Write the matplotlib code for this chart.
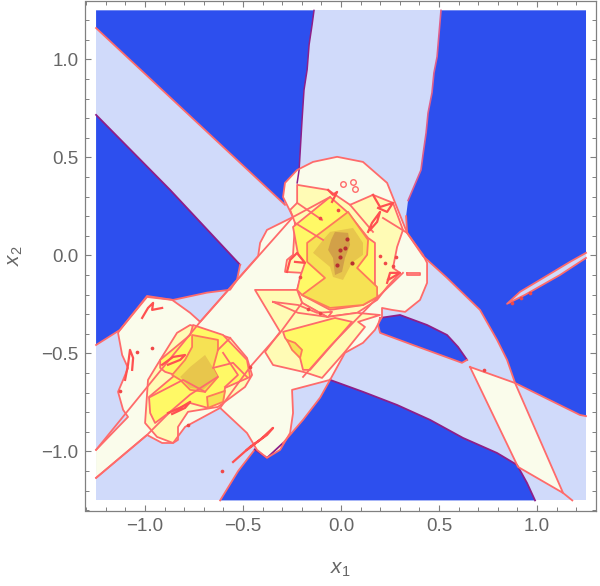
import matplotlib
matplotlib.use("Agg")
import matplotlib.pyplot as plt
from matplotlib.ticker import MultipleLocator

plt.rcParams['font.family'] = ['Liberation Sans', 'DejaVu Sans']
plt.rcParams['mathtext.fontset'] = 'custom'
plt.rcParams['mathtext.rm'] = 'Liberation Sans'
plt.rcParams['mathtext.it'] = 'Liberation Sans:italic'

# region outlines in (x1, x2)
dark_top_left = [(-1.25,1.16),(-0.286,0.258),(-0.296,0.31),(-0.224,0.37),(-0.214,0.436),(-0.199,0.691),(-0.189,0.844),
                 (-0.173,0.948),(-0.163,1.075),(-0.148,1.175),(-0.138,1.25),(-1.25,1.25)]
dark_left = [(-1.25,0.717),(-0.872,0.334),(-0.515,-0.048),(-0.531,-0.125),(-0.566,-0.175),(-0.684,-0.19),
             (-0.857,-0.227),(-0.99,-0.207),(-1.128,-0.38),(-1.25,-0.457)]
dark_right = [(0.51,1.25),(0.49,1.013),(0.474,0.931),(0.464,0.829),(0.444,0.727),(0.434,0.625),(0.418,0.513),(0.408,0.436),
              (0.342,0.28),(0.332,0.2),(0.337,0.115),(0.418,-0.003),(0.541,-0.115),(0.709,-0.278),(0.796,-0.431),(0.847,-0.533),
              (0.888,-0.651),(1.219,-0.814),(1.25,-0.82),(1.25,1.25)]
dark_bottom = [(-0.617,-1.25),(-0.525,-1.1),(-0.44,-0.99),(-0.378,-1.033),(-0.296,-0.957),(-0.194,-0.839),(-0.107,-0.726),
               (-0.056,-0.635),(0.112,-0.696),(0.286,-0.763),(0.454,-0.839),(0.622,-0.931),(0.796,-1.008),(0.898,-1.069),
               (0.949,-1.161),(0.99,-1.25)]
dark_island = [(0.199,-0.319),(0.301,-0.304),(0.439,-0.355),(0.541,-0.406),(0.597,-0.467),(0.643,-0.533),(0.617,-0.548),
               (0.367,-0.457),(0.199,-0.395),(0.189,-0.355)]
sliver = [(1.25,0.013),(1.168,-0.033),(1.015,-0.125),(0.913,-0.186),(0.847,-0.247),(0.939,-0.201),
          (1.117,-0.1),(1.25,-0.013)]

pale_main = [(-1.25,-0.992),(-1.087,-0.824),(-1.112,-0.788),(-1.138,-0.696),(-1.112,-0.635),(-1.087,-0.574),
             (-1.117,-0.508),(-1.138,-0.395),(-1.128,-0.38),(-0.99,-0.212),(-0.862,-0.227),(-0.77,-0.293),
             (-0.719,-0.339),(-0.531,-0.125),(-0.423,-0.003),(-0.413,0.064),(-0.378,0.13),(-0.245,0.196),
             (-0.296,0.298),(-0.286,0.37),(-0.224,0.436),(-0.143,0.477),(-0.02,0.503),(0.112,0.477),(0.235,0.37),
             (0.276,0.268),(0.337,0.115),(0.418,0.003),(0.439,-0.038),(0.439,-0.14),(0.403,-0.227),(0.327,-0.288),
             (0.26,-0.278),(0.209,-0.268),(0.209,-0.314),(0.173,-0.38),(0.112,-0.446),(0.02,-0.497),(-0.056,-0.635),
             (-0.25,-0.686),(-0.245,-0.804),(-0.26,-0.906),(-0.311,-0.992),(-0.378,-1.033),(-0.429,-0.992),
             (-0.48,-0.906),(-0.617,-0.778),(-0.796,-0.875),(-0.857,-0.957),(-0.913,-0.957),(-0.99,-0.916),(-1.25,-1.135)]
pale_triangle = [(0.658,-0.569),(0.888,-0.651),(1.133,-1.212),(0.903,-1.079),(0.658,-0.569)]

upper_light = [(-0.224,0.36),(-0.066,0.334),(0.046,0.258),(0.163,0.309),(0.265,0.268),(0.316,0.13),(0.286,0.043),
               (0.265,-0.064),(0.301,-0.089),(0.235,-0.161),(0.184,-0.227),(0.082,-0.293),(-0.071,-0.314),
               (-0.199,-0.242),(-0.224,-0.176),(-0.199,-0.089),(-0.286,-0.084),(-0.276,-0.023),(-0.245,0.003),
               (-0.235,0.166),(-0.26,0.232),(-0.224,0.268)]
upper_yellow = [(0.031,0.222),(0.138,0.089),(0.173,0.064),(0.173,-0.161),(0.189,-0.212),(0.112,-0.253),(-0.056,-0.278),
                (-0.199,-0.202),(-0.224,-0.176),(-0.209,-0.11),(-0.184,-0.038),(-0.219,0.003),(-0.245,0.145),(-0.056,0.298)]
upper_gold = [(0.036,0.222),(0.138,0.079),(0.133,0.003),(0.082,-0.064),(0.184,-0.161),(0.184,-0.212),(0.112,-0.253),
              (-0.056,-0.268),(-0.199,-0.202),(-0.082,-0.115),(-0.173,-0.033),(-0.173,0.064)]
upper_amber = [(-0.056,0.12),(0.061,0.14),(0.112,0.064),(0.112,0.003),(0.056,-0.038),(0.01,-0.125),(-0.041,-0.11),
               (-0.056,-0.059),(-0.143,0.013),(-0.092,0.079)]
upper_core = [(-0.031,0.12),(0.036,0.115),(0.046,0.054),(0.02,-0.013),(0.005,-0.084),(-0.031,-0.1),(-0.041,-0.013),
              (-0.066,0.028),(-0.051,0.079)]

mid_light = [(-0.439,-0.176),(-0.311,-0.39),(-0.388,-0.492),(-0.347,-0.559),(-0.194,-0.594),(-0.173,-0.6),(-0.097,-0.625),
             (0.02,-0.492),(0.122,-0.365),(0.087,-0.339),(0.199,-0.304),(0.082,-0.293),(-0.071,-0.314),(-0.199,-0.242),(-0.224,-0.176)]
mid_yellow = [(-0.296,-0.39),(-0.031,-0.319),(0.056,-0.339),(-0.158,-0.584),(-0.194,-0.584),(-0.209,-0.523),(-0.286,-0.42)]
mid_gold = [(-0.276,-0.431),(-0.235,-0.446),(-0.199,-0.482),(-0.209,-0.523),(-0.25,-0.482)]

lower_light = [(-0.77,-0.355),(-0.566,-0.421),(-0.48,-0.523),(-0.454,-0.61),(-0.49,-0.671),(-0.628,-0.773),(-0.781,-0.798),
               (-0.832,-0.875),(-0.832,-0.941),(-0.857,-0.957),(-0.939,-0.926),(-1.0,-0.855),(-0.985,-0.635),
               (-0.923,-0.533),(-0.837,-0.395)]
lower_yellow = [(-0.77,-0.406),(-0.755,-0.355),(-0.602,-0.406),(-0.48,-0.533),(-0.464,-0.62),(-0.592,-0.676),(-0.602,-0.737),
                (-0.679,-0.778),(-0.77,-0.753),(-0.872,-0.798),(-0.949,-0.855),(-0.974,-0.804),(-0.98,-0.722),
                (-0.847,-0.61),(-0.898,-0.594),(-0.923,-0.574),(-0.923,-0.533)]
lower_gold = [(-0.76,-0.406),(-0.628,-0.431),(-0.628,-0.482),(-0.653,-0.574),(-0.628,-0.62),(-0.694,-0.696),(-0.77,-0.686),
              (-0.821,-0.635),(-0.862,-0.61),(-0.796,-0.533),(-0.76,-0.467)]
lower_gold2 = [(-0.684,-0.722),(-0.592,-0.691),(-0.602,-0.747),(-0.679,-0.778)]
lower_amber = [(-0.694,-0.508),(-0.653,-0.574),(-0.628,-0.62),(-0.704,-0.686),(-0.77,-0.676),(-0.821,-0.62),(-0.77,-0.569)]

# the loose boundary lines and squiggles
lines_red = [
    [(-1.25,-0.992),(-0.719,-0.339),(-0.245,0.196),(-0.056,0.298)],
    [(-1.25,-1.135),(-0.99,-0.916),(-0.872,-0.798),(-0.77,-0.71),(-0.63,-0.62)],
    [(-0.617,-0.778),(-0.464,-0.569),(-0.311,-0.395),(-0.199,-0.242)],
    [(0.316,-0.089),(0.189,-0.212),(-0.056,-0.464),(-0.194,-0.62)],
    [(0.214,0.191),(0.337,0.115)],
    [(0.046,0.258),(0.163,0.12)],
    [(-0.224,0.268),(-0.097,0.181)],
    [(-0.235,0.166),(-0.092,0.079)],
    [(-0.974,-0.722),(-0.806,-0.635),(-0.694,-0.696)],
    [(-0.653,-0.574),(-0.551,-0.548),(-0.48,-0.62)],
    [(-0.602,-0.497),(-0.526,-0.61),(-0.592,-0.671)],
    [(-0.566,-0.421),(-0.628,-0.482)],
    [(-0.347,-0.237),(-0.219,-0.253),(-0.122,-0.293),(-0.046,-0.288),(-0.066,-0.314),(-0.219,-0.293),(-0.347,-0.237)],
    [(1.133,-1.212),(1.18,-1.25)],
    [(0.337,-0.089),(0.403,-0.089),(0.403,-0.1),(0.337,-0.1),(0.337,-0.089)],
]
squiggles = [
    [(-0.913,-0.558),(-0.857,-0.518),(-0.796,-0.508),(-0.821,-0.533),(-0.883,-0.558)],
    [(-0.883,-0.804),(-0.821,-0.778),(-0.77,-0.747),(-0.796,-0.778),(-0.862,-0.809)],
    [(-1.102,-0.635),(-1.087,-0.558),(-1.077,-0.482),(-1.061,-0.523),(-1.066,-0.584)],
    [(-1.015,-0.319),(-0.985,-0.268),(-0.959,-0.242),(-0.964,-0.278),(-0.913,-0.268)],
    [(-0.551,-1.054),(-0.464,-0.977),(-0.378,-0.916),(-0.347,-0.88),(-0.413,-0.941),(-0.48,-0.992)],
    [(-0.276,-0.084),(-0.26,-0.023),(-0.224,0.013),(-0.184,-0.038),(-0.235,-0.033)],
    [(0.235,-0.14),(0.25,-0.089),(0.301,-0.089),(0.24,-0.125)],
    [(0.138,0.12),(0.158,0.166),(0.199,0.222),(0.184,0.171),(0.148,0.13)],
    [(0.163,0.309),(0.199,0.247),(0.265,0.268),(0.235,0.222),(0.189,0.242)],
    [(-0.066,0.334),(-0.041,0.309),(-0.02,0.324),(-0.046,0.273)],
]
dots_red = [(-0.964,-0.472),(-1.041,-0.492),(-0.781,-0.865),(-0.607,-1.1),(-1.128,-0.691),(-0.464,-0.569),
            (-0.015,0.232),(-0.107,0.191),(0.199,-0.003),(0.224,-0.038),(0.265,-0.054),(0.281,-0.008),
            (-0.209,-0.11),(-0.168,-0.273),(-0.107,-0.293),(0.73,-0.585),(0.87,-0.245),(0.92,-0.215),(0.965,-0.19)]
dots_dark = [(0.031,0.084),(0.02,0.038),(-0.005,0.028),(-0.005,-0.008),(0.056,-0.038),(-0.02,-0.048)]
ovals = [(0.01,0.365),(0.061,0.375),(0.071,0.339)]

tick_labels = ['\u22121.0', '\u22120.5', '0.0', '0.5', '1.0']
tick_values = [-1.0, -0.5, 0.0, 0.5, 1.0]

DARK = '#2D4FEE'
LIGHT = '#D0DAFA'
PALE = '#FAFCEB'
PINK = '#FF6B6B'
PURPLE = '#8E1F88'
GRAY = '#808080'
TEXT = '#666666'


def fill_only(ax, pts, color):
    ax.fill([p[0] for p in pts], [p[1] for p in pts], facecolor=color, edgecolor='none', linewidth=0)


def line(ax, pts, color=PINK, lw=1.3):
    ax.plot([p[0] for p in pts], [p[1] for p in pts], color=color, linewidth=lw, solid_joinstyle='round')


def region(ax, pts, color, edge=PINK, lw=1.3):
    ax.fill([p[0] for p in pts], [p[1] for p in pts], facecolor=color, edgecolor=edge, linewidth=lw, joinstyle='round')


fig = plt.figure(figsize=(6, 5.86), dpi=100)
ax = fig.add_axes([85.5/600, 1-511/586, 510.5/600, 510/586])

ax.fill([-1.25, 1.25, 1.25, -1.25], [-1.25, -1.25, 1.25, 1.25], color=LIGHT, linewidth=0)
for poly in [dark_top_left, dark_left, dark_right, dark_bottom, dark_island]:
    fill_only(ax, poly, DARK)
fill_only(ax, sliver, LIGHT)
line(ax, sliver)

# boundaries of the dark areas: pink or purple depending on the side
line(ax, dark_top_left[:2])
line(ax, dark_top_left[3:11], PURPLE, 1.1)
line(ax, dark_left[:3], PURPLE)
line(ax, dark_left[2:])
line(ax, dark_right[:9], '#E0608C', 1.2)
line(ax, dark_right[9:19])
line(ax, dark_bottom[:3])
line(ax, dark_bottom[2:5], PURPLE)
line(ax, dark_bottom[4:8])
line(ax, dark_bottom[7:], PURPLE)
line(ax, dark_island[:6], PURPLE)
line(ax, dark_island[5:] + dark_island[:1])

fill_only(ax, pale_main, PALE)
line(ax, pale_main)
fill_only(ax, pale_triangle, PALE)
line(ax, pale_triangle)

region(ax, upper_light, '#FFFBB5')
region(ax, mid_light, '#FFFBB5')
region(ax, lower_light, '#FFFBB5')
region(ax, upper_yellow, '#FFF966')
region(ax, mid_yellow, '#FFF966')
region(ax, lower_yellow, '#FFF966')
region(ax, upper_gold, '#F6E254', edge='#FF7A5A')
region(ax, lower_gold, '#F6E254', edge='#FF7A5A')
region(ax, lower_gold2, '#F6E254', edge='#FF7A5A')
region(ax, mid_gold, '#F6E254', edge='#FF7A5A')
fill_only(ax, upper_amber, '#E8C64C')
fill_only(ax, lower_amber, '#E8C64C')
fill_only(ax, upper_core, '#D2A048')

for pts in lines_red:
    line(ax, pts)
for pts in squiggles:
    line(ax, pts, color='#FF5050', lw=1.6)
ax.scatter([p[0] for p in dots_red], [p[1] for p in dots_red], s=7, color='#F04848', linewidths=0, zorder=3)
ax.scatter([p[0] for p in dots_dark], [p[1] for p in dots_dark], s=9, color='#B83030', linewidths=0, zorder=3)
ax.scatter([p[0] for p in ovals], [p[1] for p in ovals], s=16, facecolor=PALE, edgecolor=PINK, linewidths=1, zorder=3)

ax.set_xlim(-1.304, 1.301)
ax.set_ylim(-1.304, 1.298)
ax.set_xticks(tick_values)
ax.set_xticklabels(tick_labels)
ax.set_yticks(tick_values)
ax.set_yticklabels(tick_labels)
ax.xaxis.set_minor_locator(MultipleLocator(0.1))
ax.yaxis.set_minor_locator(MultipleLocator(0.1))
ax.tick_params(which='major', direction='in', length=4.5, width=0.8, color=GRAY, top=True, right=True,
               labelsize=13.5, labelcolor=TEXT, pad=5)
ax.tick_params(which='minor', direction='in', length=2.6, width=0.7, color=GRAY, top=True, right=True)
for s in ax.spines.values():
    s.set_color(GRAY)
    s.set_linewidth(0.9)
ax.set_xlabel('$x_1$', fontsize=15, color=TEXT, labelpad=18)
ax.set_ylabel('$x_2$', fontsize=15, color=TEXT, labelpad=12)

fig.savefig('out.png', dpi=100)
